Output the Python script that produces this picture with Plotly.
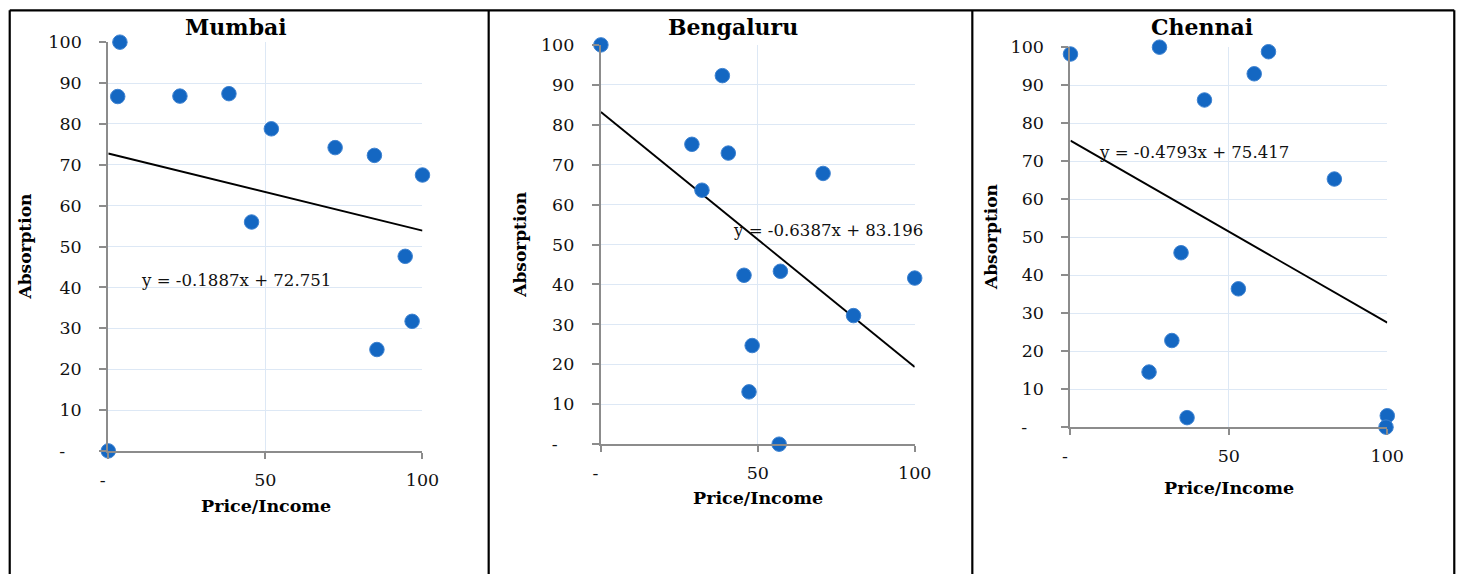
import numpy as np
import plotly.graph_objects as go

# City panels
cities = ["Mumbai", "Bengaluru", "Chennai"]

mumbai_x = [0, 3.7, 3.0, 22.8, 38.4, 51.9, 72.2, 84.7, 100, 45.6, 94.5, 96.7, 85.5]
mumbai_y = [0, 100, 86.7, 86.8, 87.4, 78.8, 74.2, 72.3, 67.5, 56.0, 47.6, 31.7, 24.8]

bengaluru_x = [0, 38.7, 29.0, 40.6, 32.2, 70.8, 45.6, 57.2, 100, 80.5, 48.2, 47.2, 56.8]
bengaluru_y = [100, 92.3, 75.1, 72.9, 63.6, 67.8, 42.3, 43.3, 41.6, 32.2, 24.7, 13.1, 0]

chennai_x = [0, 28.1, 62.5, 58.0, 42.3, 83.3, 34.9, 53.0, 32.0, 24.8, 36.8, 100, 99.6]
chennai_y = [98.2, 100, 98.8, 93.0, 86.1, 65.3, 45.9, 36.4, 22.8, 14.5, 2.5, 3.0, 0]

# Linear trend coefficients (y = slope * x + intercept)
slopes = [-0.1887, -0.6387, -0.4793]
intercepts = [72.751, 83.196, 75.417]

# Tick values and labels (zero shown as a dash)
y_tickvals = [0, 10, 20, 30, 40, 50, 60, 70, 80, 90, 100]
y_ticktext = ["-\u00a0\u00a0\u00a0"] + [str(v) for v in y_tickvals[1:]]
x_tickvals = [0, 50, 100]
x_ticktext = ["-\u00a0\u00a0", "50", "100"]

xs = [mumbai_x, bengaluru_x, chennai_x]
ys = [mumbai_y, bengaluru_y, chennai_y]

# Figure size; the page body adds a margin around it
W, H = 1472, 584
PADX, PADY = 8, 10.6
# Layout positions below are in a 1464x578 design grid, stretched onto the page
SX, SY = 1464 / 1488, 578 / 600
FONT = "DejaVu Serif"
MARKER = "#1467c2"
GRID = "#dde8f5"
AXIS = "#8c8c8c"


def fx(px):
    """Design-grid x pixel -> paper fraction."""
    return min(max((px / SX - PADX) / W, 0.0005), 0.9995)


def fy(py):
    """Design-grid y pixel (from top) -> paper fraction."""
    return min(max(1 - (py / SY - PADY) / H, 0.0005), 0.9995)


# Plot-area boxes: (left, right, top, bottom)
boxes = [
    (107.3, 422.0, 42.3, 450.0),
    (600.7, 915.0, 45.0, 443.3),
    (1071.0, 1388.3, 47.3, 426.3),
]
# Title / axis-title / equation positions
title_pos = [(235, 27), (733, 27), (1203, 27)]
ytitle_pos = [(24, 246), (520, 244), (992, 237)]
xtitle_pos = [(265, 505), (758, 497), (1230, 487)]
eq_pos = [(138, 280), (731, 230), (1098, 152)]

fig = go.Figure()
layout = dict(
    width=W, height=H,
    margin=dict(l=0, r=0, t=0, b=0),
    paper_bgcolor="white", plot_bgcolor="white",
    showlegend=False,
    font=dict(family=FONT, color="#111111"),
)

annotations = []
shapes = []

for i, name in enumerate(cities):
    sfx = "" if i == 0 else str(i + 1)
    xa, ya = "x" + sfx, "y" + sfx
    l, r, t, b = boxes[i]

    line_x = np.array([0, 100])
    line_y = slopes[i] * line_x + intercepts[i]
    fig.add_trace(go.Scatter(
        x=line_x, y=line_y, mode="lines",
        line=dict(color="black", width=1.9),
        xaxis=xa, yaxis=ya, hoverinfo="skip", cliponaxis=False,
    ))
    fig.add_trace(go.Scatter(
        x=xs[i], y=ys[i], mode="markers",
        marker=dict(size=14.5, color=MARKER, line=dict(color="#3d82d1", width=1)),
        xaxis=xa, yaxis=ya, cliponaxis=False,
    ))

    layout["xaxis" + sfx] = dict(
        domain=[fx(l), fx(r)], range=[0, 100], anchor=ya,
        tickvals=x_tickvals, ticktext=x_ticktext,
        showgrid=True, gridcolor=GRID, gridwidth=1,
        showline=True, linecolor=AXIS, linewidth=2,
        ticks="outside", ticklen=6, tickcolor=AXIS, tickwidth=2,
        ticklabelstandoff=6,
        tickfont=dict(family=FONT, size=17.5, color="#111111"),
        zeroline=False, fixedrange=True,
    )
    layout["yaxis" + sfx] = dict(
        domain=[fy(b), fy(t)], range=[0, 100], anchor=xa,
        tickvals=y_tickvals, ticktext=y_ticktext,
        showgrid=True, gridcolor=GRID, gridwidth=1,
        showline=True, linecolor=AXIS, linewidth=2,
        ticks="outside", ticklen=7, tickcolor=AXIS, tickwidth=2,
        ticklabelstandoff=14,
        tickfont=dict(family=FONT, size=17.5, color="#111111"),
        zeroline=False, fixedrange=True,
    )

    annotations.append(dict(
        x=fx(title_pos[i][0]), y=fy(title_pos[i][1]), xref="paper", yref="paper",
        text="<b>" + name + "</b>", showarrow=False, xanchor="center", yanchor="middle",
        font=dict(family=FONT, size=22, color="black"),
    ))
    annotations.append(dict(
        x=fx(ytitle_pos[i][0]), y=fy(ytitle_pos[i][1]), xref="paper", yref="paper",
        text="<b>Absorption</b>", showarrow=False, textangle=-90,
        xanchor="center", yanchor="middle",
        font=dict(family=FONT, size=17, color="black"),
    ))
    annotations.append(dict(
        x=fx(xtitle_pos[i][0]), y=fy(xtitle_pos[i][1]), xref="paper", yref="paper",
        text="<b>Price/Income</b>", showarrow=False, xanchor="center", yanchor="middle",
        font=dict(family=FONT, size=17.5, color="black"),
    ))
    sign = "-" if slopes[i] < 0 else ""
    eq = f"y = {sign}{abs(slopes[i]):.4f}x + {intercepts[i]:.3f}"
    annotations.append(dict(
        x=fx(eq_pos[i][0]), y=fy(eq_pos[i][1]), xref="paper", yref="paper",
        text=eq, showarrow=False, xanchor="left", yanchor="middle",
        font=dict(family=FONT, size=16.6, color="#111111"),
    ))

# Panel frames (open at the bottom)
frame = dict(color="black", width=2.2)
for x0 in [4.3, 488.3, 972.7, 1456.5]:
    shapes.append(dict(type="line", xref="paper", yref="paper",
                       x0=fx(x0), x1=fx(x0), y0=0, y1=fy(6.5), line=frame))
shapes.append(dict(type="line", xref="paper", yref="paper",
                   x0=fx(3.2), x1=fx(1457.6), y0=fy(7), y1=fy(7), line=frame))

layout["annotations"] = annotations
layout["shapes"] = shapes
fig.update_layout(**layout)
fig.write_html("out.html")
